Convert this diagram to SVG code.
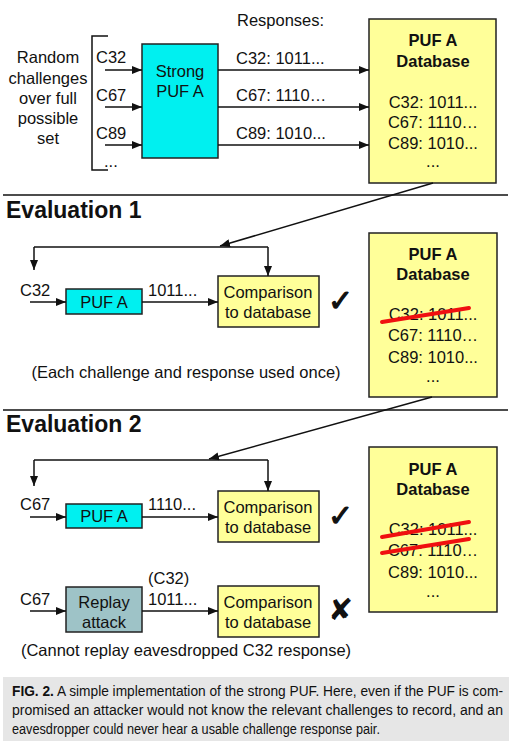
<svg xmlns="http://www.w3.org/2000/svg" width="515" height="748" viewBox="0 0 515 748">
<defs>
<marker id="ah" viewBox="0 0 10 8" refX="10" refY="4" markerWidth="10" markerHeight="8" markerUnits="userSpaceOnUse" orient="auto">
<path d="M0,0 L10,4 L0,8 Z" fill="#111"/>
</marker>
<style>
text{font-family:"Liberation Sans",Arial,sans-serif;fill:#111}
.t{font-size:16.5px}
.c{text-anchor:middle}
.b{font-weight:bold}
.h{font-size:23px;font-weight:bold}
.ln{stroke:#111;stroke-width:1.5;fill:none}
.ar{stroke:#111;stroke-width:1.5;fill:none;marker-end:url(#ah)}
.cy{fill:#00F0F0;stroke:#222;stroke-width:1.5}
.yl{fill:#FFFF99;stroke:#222;stroke-width:1.5}
.gr{fill:#9EC3C7;stroke:#222;stroke-width:1.5}
.red{stroke:#F01010;stroke-width:4;stroke-linecap:round}
.mk{font-family:"DejaVu Sans",sans-serif;font-size:30px}
.ck{stroke:#111;stroke-width:1.2}
.cap{font-family:"Liberation Sans",Arial,sans-serif;font-size:15px}
</style>
</defs>

<g id="dividers">
<line class="ln" x1="3" y1="195" x2="508" y2="195"/>
<line class="ln" x1="3" y1="410" x2="508" y2="410"/>
</g>

<g id="random-challenges">
<text class="t c" x="48" y="63">Random</text>
<text class="t c" x="48" y="84">challenges</text>
<text class="t c" x="48" y="104">over full</text>
<text class="t c" x="48" y="124">possible</text>
<text class="t c" x="48" y="144">set</text>
<path class="ln" d="M108,36 H92 V170 H108"/>
<text class="t" x="96" y="63">C32</text>
<text class="t" x="96" y="101">C67</text>
<text class="t" x="96" y="139">C89</text>
<text class="t" x="104" y="167">...</text>
</g>

<g id="strong-puf">
<rect class="cy" x="142" y="44" width="76" height="114"/>
<text class="t c" x="180" y="77">Strong</text>
<text class="t c" x="180" y="97">PUF A</text>
</g>

<g id="responses">
<text class="t" x="237" y="26">Responses:</text>
<text class="t" x="236" y="64">C32: 1011...</text>
<text class="t" x="236" y="101">C67: 1110…</text>
<text class="t" x="236" y="139">C89: 1010...</text>
</g>

<g id="db1">
<rect class="yl" x="369" y="19" width="127" height="164"/>
<text class="t c b" x="433" y="46">PUF A</text>
<text class="t c b" x="433" y="67">Database</text>
<text class="t c" x="433" y="108">C32: 1011...</text>
<text class="t c" x="433" y="128">C67: 1110…</text>
<text class="t c" x="433" y="149">C89: 1010...</text>
<text class="t c" x="433" y="167">...</text>
</g>

<g id="eval1-title"><text class="h" x="6" y="218">Evaluation 1</text></g>

<g id="eval1-puf">
<rect class="cy" x="66" y="289" width="76" height="25"/>
<text class="t c" x="104" y="308">PUF A</text>
</g>
<g id="eval1-comp">
<rect class="yl" x="218" y="276" width="101" height="51"/>
<text class="t c" x="268" y="298">Comparison</text>
<text class="t c" x="268" y="318">to database</text>
</g>
<g id="eval1-labels">
<text class="t" x="20" y="296">C32</text>
<text class="t" x="148" y="296">1011...</text>
<text class="mk ck" x="328" y="311">✓</text>
<text class="t c" x="186" y="378">(Each challenge and response used once)</text>
</g>

<g id="db2">
<rect class="yl" x="369" y="233" width="128" height="164"/>
<text class="t c b" x="433" y="260">PUF A</text>
<text class="t c b" x="433" y="280">Database</text>
<text class="t c" x="433" y="320">C32: 1011...</text>
<text class="t c" x="433" y="341">C67: 1110…</text>
<text class="t c" x="433" y="363">C89: 1010...</text>
<text class="t c" x="433" y="382">...</text>
<line class="red" x1="382" y1="322" x2="469" y2="308"/>
</g>

<g id="eval2-title"><text class="h" x="6" y="432">Evaluation 2</text></g>

<g id="eval2-puf">
<rect class="cy" x="66" y="504" width="76" height="24"/>
<text class="t c" x="104" y="522">PUF A</text>
</g>
<g id="eval2-comp">
<rect class="yl" x="218" y="491" width="101" height="51"/>
<text class="t c" x="268" y="513">Comparison</text>
<text class="t c" x="268" y="533">to database</text>
</g>
<g id="replay">
<rect class="gr" x="66" y="587" width="76" height="45"/>
<text class="t c" x="104" y="608">Replay</text>
<text class="t c" x="104" y="628">attack</text>
</g>
<g id="eval2-comp2">
<rect class="yl" x="218" y="586" width="101" height="51"/>
<text class="t c" x="268" y="608">Comparison</text>
<text class="t c" x="268" y="628">to database</text>
</g>
<g id="eval2-labels">
<text class="t" x="20" y="510">C67</text>
<text class="t" x="148" y="510">1110...</text>
<text class="mk ck" x="328" y="526">✓</text>
<text class="t" x="20" y="605">C67</text>
<text class="t" x="148" y="584">(C32)</text>
<text class="t" x="148" y="605">1011...</text>
<text class="mk" x="328" y="620">✘</text>
<text class="t c" x="186" y="656">(Cannot replay eavesdropped C32 response)</text>
</g>

<g id="db3">
<rect class="yl" x="369" y="447" width="128" height="165"/>
<text class="t c b" x="433" y="475">PUF A</text>
<text class="t c b" x="433" y="495">Database</text>
<text class="t c" x="433" y="535">C32: 1011...</text>
<text class="t c" x="433" y="556">C67: 1110…</text>
<text class="t c" x="433" y="578">C89: 1010...</text>
<text class="t c" x="433" y="597">...</text>
<line class="red" x1="382" y1="537" x2="469" y2="522"/>
<line class="red" x1="382" y1="553" x2="469" y2="539"/>
</g>

<g id="connectors">
<line class="ar" x1="105" y1="70" x2="142" y2="70"/>
<line class="ar" x1="105" y1="107" x2="142" y2="107"/>
<line class="ar" x1="105" y1="145" x2="142" y2="145"/>
<line class="ar" x1="218" y1="70" x2="369" y2="70"/>
<line class="ar" x1="218" y1="107" x2="369" y2="107"/>
<line class="ar" x1="218" y1="145" x2="369" y2="145"/>
<line class="ar" x1="433" y1="183" x2="220" y2="246"/>
<path class="ln" d="M34,247 H268"/>
<line class="ar" x1="34" y1="247" x2="34" y2="270"/>
<line class="ar" x1="268" y1="247" x2="268" y2="276"/>
<line class="ar" x1="30" y1="302" x2="66" y2="302"/>
<line class="ar" x1="142" y1="302" x2="218" y2="302"/>
<line class="ar" x1="432" y1="397" x2="209" y2="459"/>
<path class="ln" d="M34,460 H268"/>
<line class="ar" x1="34" y1="460" x2="34" y2="486"/>
<line class="ar" x1="268" y1="460" x2="268" y2="491"/>
<line class="ar" x1="30" y1="517" x2="66" y2="517"/>
<line class="ar" x1="142" y1="517" x2="218" y2="517"/>
<line class="ar" x1="30" y1="611" x2="66" y2="611"/>
<line class="ar" x1="142" y1="611" x2="218" y2="611"/>
</g>

<g id="caption">
<rect x="3" y="677" width="506" height="64" fill="#E6E6E6"/>
<g transform="translate(12,0) scale(0.84,1)">
<text class="cap" x="0" y="696" textLength="584.5" lengthAdjust="spacingAndGlyphs"><tspan font-weight="bold">FIG. 2.</tspan> A simple implementation of the strong PUF. Here, even if the PUF is com-</text>
<text class="cap" x="0" y="715" textLength="584.5" lengthAdjust="spacingAndGlyphs">promised an attacker would not know the relevant challenges to record, and an</text>
<text class="cap" x="0" y="734" textLength="438" lengthAdjust="spacingAndGlyphs">eavesdropper could never hear a usable challenge response pair.</text>
</g>
</g>
</svg>
